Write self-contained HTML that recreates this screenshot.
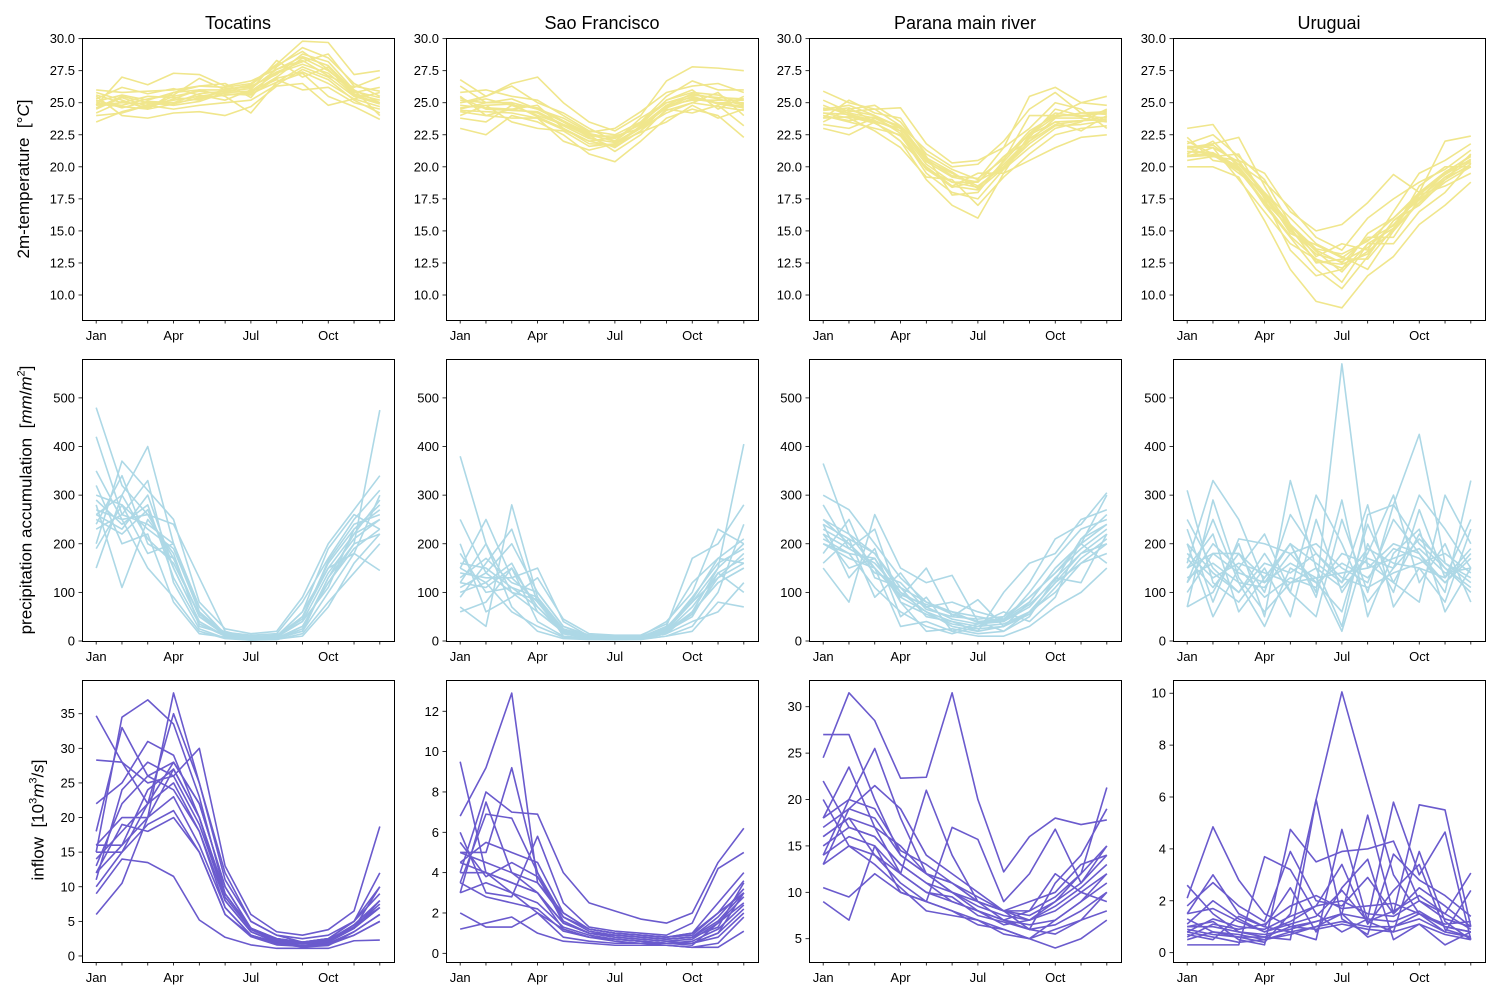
<!DOCTYPE html>
<html><head><meta charset="utf-8">
<style>
html,body{margin:0;padding:0;background:#fff;}
svg{display:block;font-family:"Liberation Sans","DejaVu Sans",sans-serif;}
</style></head>
<body>
<svg id="fig" width="1503" height="1000" viewBox="0 0 1503 1000" xmlns="http://www.w3.org/2000/svg">
<rect width="1503" height="1000" fill="#fff"/>
</svg>
<script>
const months = ["Jan","Feb","Mar","Apr","May","Jun","Jul","Aug","Sep","Oct","Nov","Dec"];
const monthLabels = ["Jan","","","Apr","","","Jul","","","Oct","",""];
const basins = ["Tocatins","Sao Francisco","Parana main river","Uruguai"];

const tempTocantins = [
[23.5,24.3,24.8,25.0,25.3,25.6,25.8,27.0,28.5,27.5,26.0,24.0],
[26.0,25.8,25.9,26.0,26.3,26.2,26.5,28.0,29.8,29.7,27.2,27.5],
[24.8,27.0,26.4,27.3,27.2,26.3,26.7,27.6,28.3,27.1,26.2,27.0],
[25.5,24.0,23.8,24.2,24.3,24.0,24.7,26.3,26.5,24.8,25.3,25.8],
[24.2,25.1,24.6,25.3,26.0,25.5,24.2,26.6,27.3,25.5,24.7,23.7],
[25.0,24.8,25.3,25.6,26.9,26.0,26.3,27.2,28.8,28.2,26.0,25.0],
[24.6,25.5,25.0,24.8,25.1,25.8,25.9,26.8,26.0,26.2,25.0,24.5],
[25.8,25.2,24.5,25.8,26.3,26.5,25.4,27.8,29.3,28.5,26.5,25.5],
[24.0,24.2,24.8,24.5,24.8,25.0,25.2,26.4,27.6,26.8,25.2,24.2],
[25.3,26.2,25.7,26.1,25.6,25.2,26.0,28.3,27.0,27.8,25.8,26.2],
[24.8,25.0,24.9,25.2,25.5,25.8,25.9,27.3,28.0,27.3,25.6,25.0],
[25.2,24.6,25.1,25.0,25.7,25.9,26.1,27.6,28.6,27.9,25.9,25.4],
[24.5,25.4,24.7,25.5,25.9,25.7,25.6,26.9,27.4,26.5,25.3,24.7],
[25.6,25.0,25.5,25.4,25.2,26.1,26.2,27.4,28.2,28.8,26.3,25.9],
[24.9,24.7,24.5,24.9,25.4,25.6,25.7,26.6,27.8,27.0,25.5,24.9],
[25.1,25.6,25.2,25.8,26.0,26.0,26.4,27.9,29.0,27.6,25.7,25.2]];
const tempSaoFrancisco = [
[26.8,25.5,26.5,27.0,25.0,23.5,22.8,24.0,26.7,27.8,27.7,27.5],
[23.0,22.5,24.0,23.5,22.5,21.0,20.4,22.0,23.8,24.5,24.0,22.3],
[24.5,25.0,25.3,24.5,23.5,22.3,21.5,22.8,24.8,25.7,25.3,24.8],
[25.5,24.0,24.5,24.8,23.0,22.0,22.3,23.3,25.2,26.0,24.5,25.5],
[24.0,24.8,23.5,23.0,22.8,21.6,21.8,23.0,24.2,25.0,25.8,24.0],
[25.8,26.0,25.5,25.2,24.0,22.8,22.5,23.5,25.5,26.7,26.0,26.0],
[23.8,23.5,24.8,24.0,23.3,22.5,21.2,22.5,24.5,24.2,24.8,23.2],
[25.0,25.5,26.3,25.0,24.2,23.0,22.0,23.8,25.0,25.4,25.0,25.0],
[24.3,24.0,23.8,23.8,22.0,21.3,21.8,22.7,23.5,24.8,23.8,24.5],
[26.3,25.0,25.0,24.5,23.8,22.7,23.0,24.3,25.8,26.3,26.5,25.8],
[24.8,24.6,24.5,24.2,23.2,22.2,21.9,23.1,24.6,25.3,25.0,24.7],
[25.2,25.0,25.0,24.5,23.5,22.5,22.0,23.5,25.0,25.6,25.4,25.3],
[24.4,24.3,24.2,23.8,22.9,22.0,21.6,22.8,24.4,25.0,24.7,24.4],
[25.0,25.3,24.8,24.6,23.6,22.6,22.2,23.4,25.2,25.8,25.6,24.9],
[24.6,24.8,24.9,23.9,23.0,21.8,21.7,23.2,24.8,25.2,25.2,25.2],
[25.4,24.5,24.4,24.3,23.3,22.4,22.4,23.0,24.7,25.5,24.9,24.6]];
const tempParana = [
[25.9,25.0,24.5,24.6,21.8,20.3,20.5,21.5,25.5,26.2,25.0,25.5],
[23.0,22.5,23.5,22.0,19.0,17.0,16.0,19.5,20.5,21.5,22.3,22.5],
[24.5,24.8,24.0,23.0,20.5,19.5,18.5,20.0,22.3,24.5,24.0,23.8],
[24.0,23.5,23.0,22.5,19.5,18.0,17.5,19.8,21.5,23.0,23.5,24.5],
[23.5,24.5,24.8,23.5,21.0,19.8,19.0,21.5,23.0,25.0,24.5,23.0],
[24.8,24.0,23.5,22.0,20.0,18.5,19.5,19.5,22.5,23.5,22.8,24.0],
[23.8,25.2,24.2,23.8,20.8,17.8,18.0,20.5,24.0,24.0,25.0,24.8],
[24.2,23.8,22.8,21.5,19.2,19.0,17.0,19.2,21.0,22.5,23.0,23.2],
[25.2,24.3,24.5,23.2,21.3,20.0,20.2,22.0,24.5,25.8,24.2,24.3],
[23.3,23.0,23.8,22.8,19.8,18.8,18.8,20.8,22.0,23.8,23.8,23.5],
[24.2,24.1,23.6,22.8,20.2,18.8,18.4,20.2,22.2,23.5,23.6,23.9],
[24.5,24.4,24.0,23.1,20.6,19.3,19.1,20.6,22.8,24.0,24.0,24.2],
[23.8,23.9,23.4,22.4,19.8,18.5,18.2,19.9,21.8,23.2,23.3,23.6],
[24.4,24.6,23.5,23.0,20.4,19.2,18.8,20.8,22.5,23.9,24.2,24.1],
[24.0,23.6,23.9,22.6,19.9,18.4,18.9,20.0,22.0,23.3,23.6,23.7],
[24.6,24.2,23.8,23.2,20.7,19.6,18.3,20.4,22.6,24.2,23.9,24.4]];
const tempUruguai = [
[23.0,23.3,20.5,19.5,16.5,15.0,15.5,17.2,19.4,18.0,22.0,22.4],
[20.0,20.0,19.2,15.8,12.0,9.5,9.0,11.5,13.0,15.5,17.0,18.8],
[21.5,21.8,22.3,18.5,15.0,13.5,12.5,14.5,14.5,17.5,19.5,20.5],
[21.0,22.0,20.0,17.0,14.5,12.0,10.5,13.0,15.8,17.0,19.0,21.0],
[22.0,21.0,19.5,18.0,16.0,14.0,13.0,12.0,15.0,18.5,20.0,20.0],
[20.5,20.8,21.0,17.5,13.5,11.5,12.0,14.8,16.0,17.8,18.5,19.5],
[21.8,22.5,20.8,19.0,15.5,13.0,14.0,13.5,16.5,19.5,20.5,21.8],
[20.8,21.5,19.0,16.5,14.0,12.8,11.0,14.0,14.0,16.5,18.0,20.3],
[22.3,20.5,20.2,18.8,16.8,14.5,13.5,16.0,17.5,18.8,19.8,21.3],
[21.2,21.0,19.8,17.8,15.3,12.5,12.8,12.8,15.2,17.2,19.2,20.0],
[21.2,21.1,20.0,17.6,15.0,13.2,12.6,13.7,15.5,17.6,19.2,20.4],
[21.6,21.5,20.4,18.0,15.5,13.6,13.2,14.2,16.0,18.0,19.6,20.8],
[20.8,20.9,19.7,17.2,14.6,12.8,12.1,13.4,15.0,17.2,18.8,20.0],
[21.4,21.7,20.2,17.9,14.8,13.9,12.9,14.3,15.4,17.9,19.4,20.6],
[20.9,21.0,19.9,17.3,15.2,12.6,12.4,13.2,15.8,17.4,19.0,20.2],
[21.5,20.8,20.5,17.7,15.4,13.4,11.8,14.0,15.2,17.8,19.5,20.9]];

const precTocantins = [
[480,320,260,240,130,20,5,5,30,120,200,475],
[150,300,400,200,60,10,3,8,20,100,180,300],
[280,110,250,180,30,15,10,10,60,190,260,230],
[350,250,150,90,20,5,2,3,15,80,140,200],
[200,370,310,250,80,25,15,20,90,200,270,340],
[260,230,300,150,40,10,5,5,20,130,220,250],
[320,200,220,80,15,8,3,6,50,150,180,145],
[190,280,180,200,70,12,8,12,40,110,230,280],
[420,260,330,120,25,6,2,4,10,70,160,220],
[240,340,200,170,50,18,12,15,80,170,250,310],
[270,250,260,170,50,12,6,8,40,140,210,250],
[300,280,230,190,60,15,8,10,50,160,230,270],
[250,220,270,150,40,10,5,6,30,120,190,230],
[230,260,240,200,70,14,7,9,60,150,220,290],
[290,240,280,130,35,10,4,5,25,130,200,220],
[260,300,210,160,55,16,9,12,45,165,240,260]];
const precSaoFrancisco = [
[380,200,100,60,20,8,5,5,15,60,150,405],
[70,30,280,90,10,5,3,4,10,20,80,70],
[150,250,130,150,40,10,8,8,30,170,200,280],
[100,120,60,30,8,4,3,4,20,60,120,150],
[250,140,200,100,30,12,10,10,40,100,230,200],
[60,80,150,40,10,5,5,5,15,40,60,120],
[180,100,110,70,20,8,5,6,25,80,130,180],
[120,200,70,20,5,3,3,3,10,30,100,240],
[200,60,90,130,45,15,12,12,35,120,170,160],
[90,160,230,80,15,6,4,5,20,50,140,100],
[140,130,130,80,20,8,6,6,20,70,140,170],
[160,150,110,90,25,10,7,7,25,90,160,190],
[120,110,150,70,15,6,5,5,15,60,120,150],
[130,170,120,100,30,9,6,6,22,80,150,200],
[150,120,160,60,18,7,5,6,18,55,130,160],
[110,140,100,85,22,8,7,7,28,85,170,210]];
const precParana = [
[365,220,180,100,60,30,20,30,80,150,200,300],
[150,80,260,150,120,135,40,20,60,120,180,200],
[250,200,150,30,40,20,10,10,30,70,100,150],
[300,270,200,130,80,60,50,40,100,170,230,250],
[200,180,110,60,30,15,30,50,120,210,240,305],
[220,150,170,90,150,50,85,30,60,100,160,180],
[180,250,130,110,50,40,20,100,160,180,250,270],
[280,190,230,80,20,25,15,20,50,130,120,220],
[160,210,90,140,70,80,60,45,90,140,200,160],
[240,130,190,50,90,20,35,60,40,90,210,240],
[220,190,160,100,70,45,35,40,70,130,180,220],
[240,210,180,110,80,55,40,45,80,150,200,240],
[200,170,150,90,60,40,30,35,60,120,160,200],
[230,200,140,120,65,50,45,50,90,140,190,230],
[210,180,170,80,55,35,25,30,55,110,170,210],
[250,220,150,95,75,60,38,42,75,125,210,260]];
const precUruguai = [
[160,330,250,120,200,100,570,150,200,180,100,330],
[70,100,200,50,330,150,30,260,280,425,160,120],
[250,150,100,180,100,300,200,80,150,300,230,150],
[120,250,120,30,150,120,60,240,120,80,300,200],
[200,50,150,220,100,50,250,100,280,200,150,100],
[100,180,180,100,260,180,120,280,70,150,80,230],
[310,120,80,150,50,250,100,180,300,120,200,80],
[150,220,60,130,200,90,290,50,180,230,60,150],
[70,290,130,60,120,130,20,200,100,270,130,250],
[230,80,210,200,180,200,150,120,250,180,120,180],
[150,180,140,120,160,130,140,150,170,190,140,150],
[180,130,160,140,120,150,110,170,150,210,160,130],
[130,160,120,110,180,120,160,130,190,170,120,170],
[200,140,100,160,140,180,130,110,140,160,180,140],
[120,200,150,90,130,110,180,160,120,220,150,110],
[170,110,180,130,200,160,120,190,160,150,130,190]];

const flowTocantins = [
[34.7,28,22,28,22,10,4,2.5,2,2.5,4,8],
[6,10.5,20,38,25,12,5,3,2.5,3,5,12],
[15,34.5,37,33.5,23,9,4,2,1.8,2,4,10],
[9,14,13.5,11.5,5.2,2.7,1.6,1.1,1.1,1.1,2.2,2.3],
[28.3,28,25,26,30,13,6,3.5,3,3.8,6.5,18.7],
[22,25,31,29,20,8,3.5,2,1.5,2,4.5,7],
[12,19,18,20,15,6,3,2,1.5,1.8,3,5],
[18,33,26,24,18,7,3,1.8,1.3,1.5,3.5,6],
[10,15,22,35,25,11,5,3,2,2.5,5,10],
[16,16,20,27,20,9,4,2.5,2,2.2,4,7],
[14,18,22,25,18,8,3.5,2,1.8,2,4,7],
[12,16,24,27,20,9,4,2.3,2,2.3,4.5,8],
[16,20,20,23,16,7,3,1.8,1.5,1.8,3.5,6],
[13,22,26,28,22,10,4,2.5,2,2.5,5,9],
[15,15,19,21,15,6,2.8,1.6,1.4,1.6,3,5],
[11,24,28,26,19,8.5,3.8,2.2,1.9,2.1,4.2,7.5]];
const flowSaoFrancisco = [
[9.5,4,3,2,1.2,0.8,0.7,0.6,0.5,0.5,0.8,2],
[6.8,9.2,12.9,3.5,2,1.2,1,0.9,0.8,1,2,3],
[4,8,7,6.9,4,2.5,2.1,1.7,1.5,2,4.5,6.2],
[1.2,1.5,1.8,1,0.6,0.5,0.4,0.4,0.4,0.3,0.3,1.1],
[5,5,9.2,4,1.5,1,0.8,0.7,0.6,0.5,1,3],
[3,7.5,4,3,1.2,0.8,0.6,0.5,0.5,0.4,1.5,2.5],
[6,3,2.8,5.8,2.5,1.3,1.1,1,0.9,1.5,4.2,5],
[2,1.3,1.3,2,0.8,0.6,0.5,0.5,0.4,0.3,0.5,1.8],
[4.5,4,3.5,3,1.5,1,0.9,0.8,0.7,0.8,1.3,3.5],
[3.5,6.9,6.7,4,1.8,1.2,1,0.9,0.8,1,2.5,4],
[4,4,3.5,3,1.5,1,0.8,0.7,0.6,0.7,1.5,2.8],
[5,4.5,4,3.5,1.8,1.1,0.9,0.8,0.7,0.8,1.8,3.2],
[3,3.5,3,2.5,1.3,0.9,0.7,0.6,0.5,0.6,1.2,2.4],
[4.5,5.5,5,4.5,2,1.2,1,0.9,0.8,0.9,2,3.6],
[3.5,2.8,2.5,2.2,1.1,0.8,0.7,0.6,0.5,0.5,1,2.2],
[5.5,3.8,4.5,3.8,1.6,1,0.9,0.8,0.7,0.8,1.6,3]];
const flowParana = [
[24.5,31.5,28.5,22.3,22.4,31.5,20,12.2,16,18,17.3,17.8],
[27,27,20,14,12,11,9,7,6,5.5,7,10],
[9,7,15,10,9,8,7,6,5,4,5,7],
[14,20,25.5,18,12,10,8,6.5,7,9,12,21.3],
[18,23.5,17,12,21,14,9,8,6,11,14,19],
[10.5,9.5,12,10,9,17,15.7,9,12,16.8,11,15],
[16,18,14,11,9,8,6.5,6,5,7,9,12],
[20,15,13,10.5,8,7.5,7,5.5,5,6,7,8],
[13,19,21.5,19,14,12,10,8,9,10,13,14],
[22,17,16,13,11,9,8,7,8,12,10,9],
[15,17,16,13,11,10,8.5,7.5,7,8,10,12],
[17,19,18,14,12,11,9,8,7.5,9,11,14],
[13,15,14,12,10,9,8,7,6.5,7,9,11],
[16,18,17,15,12,10,9,8,8,9.5,12,15],
[14,16,15,12,10,9.5,7.5,6.8,6,6.5,8,10],
[18,20,19,14.5,13,11,9.5,8,7,8.5,10.5,13]];
const flowUruguai = [
[0.5,0.8,0.6,0.4,1.5,5.9,10.05,6.5,3,1.5,1,0.8],
[2.1,4.85,2.8,1.5,1,1.2,1.5,5.3,1.5,5.7,5.5,1],
[1,1.2,0.5,0.3,4.75,3.5,3.9,4,4.3,2,1.5,3.07],
[0.3,0.3,0.3,3.7,3.2,1.5,0.8,1.3,5.8,3,4.65,0.5],
[1.5,3,1.5,1,0.8,0.5,4.75,1.2,0.8,3.9,1.2,0.5],
[0.8,0.6,0.4,0.5,0.8,1,1.5,0.6,1,1.5,0.8,2.4],
[1.8,2.7,1.8,1.2,3.9,2,1.8,2.9,1.5,2.5,1.8,1],
[2.6,1.5,0.8,0.6,0.5,5.9,1.3,0.7,3.8,2.8,2.2,1.4],
[0.7,0.5,1.4,1,2.5,0.8,2.5,3.6,0.5,1.1,0.3,0.8],
[1.1,2,1.3,0.8,1.2,1.8,3.4,1.1,2.4,3.4,0.9,0.6],
[1,1,0.8,0.7,0.9,1.2,1.5,1.3,1.2,1.6,1,0.8],
[0.8,1.3,1,0.9,1.4,1.8,2,1.5,1.4,2,1.3,1],
[1.3,0.8,0.7,0.5,0.7,1,1.2,1,1,1.3,0.8,0.6],
[0.6,1.1,0.9,1.1,1.8,2.2,1.7,1.8,1.9,1.5,1.1,1.2],
[1.5,1.7,1.2,0.8,1.1,1.4,2.4,1.2,1.6,2.2,1.5,0.9],
[0.9,0.7,0.6,0.6,1,0.9,1.1,0.9,0.8,1.1,0.7,0.5]];

const tempTicks = [10,12.5,15,17.5,20,22.5,25,27.5,30];
const precTicks = [0,100,200,300,400,500];
const flowTicksTocantins = [0,5,10,15,20,25,30,35];
const flowTicksSaoFrancisco = [0,2,4,6,8,10,12];
const flowTicksParana = [5,10,15,20,25,30];
const flowTicksUruguai = [0,2,4,6,8,10];

const NS = "http://www.w3.org/2000/svg";
const svg = document.getElementById("fig");
function mk(tag, attrs, parent){
  const e = document.createElementNS(NS, tag);
  for (const k in attrs) e.setAttribute(k, attrs[k]);
  (parent||svg).appendChild(e);
  return e;
}
const colLeft = [82,446,809,1173], rowTop = [38,359,680], W = 312, H = 282;
const rows = [
 {data:[tempTocantins,tempSaoFrancisco,tempParana,tempUruguai], color:"#F0E68C",
  lims:[[8.05,30.05],[8.05,30.05],[8.05,30.05],[8.05,30.05]], ticks:[tempTicks,tempTicks,tempTicks,tempTicks], fmt:v=>v.toFixed(1), key:"temperature"},
 {data:[precTocantins,precSaoFrancisco,precParana,precUruguai], color:"#ADD8E6",
  lims:[[0,580],[0,580],[0,580],[0,580]], ticks:[precTicks,precTicks,precTicks,precTicks], fmt:v=>String(v), key:"precipitation"},
 {data:[flowTocantins,flowSaoFrancisco,flowParana,flowUruguai], color:"#6A5ACD",
  lims:[[-0.87,39.87],[-0.43,13.55],[2.49,32.88],[-0.36,10.51]], ticks:[flowTicksTocantins,flowTicksSaoFrancisco,flowTicksParana,flowTicksUruguai], fmt:v=>String(v), key:"inflow"}
];

rows.forEach((row, r) => {
  row.data.forEach((series, c) => {
    const L = colLeft[c], T = rowTop[r];
    const [y0, y1] = row.lims[c];
    const xs = i => L + (i + 0.55) / 12.1 * W;
    const ys = v => T + H - (v - y0) / (y1 - y0) * H;
    const g = mk("g", {});
    
    
    series.forEach((line, k) => {
      const d = line.map((v, i) => (i ? "L" : "M") + xs(i).toFixed(2) + " " + ys(v).toFixed(2)).join(" ");
      const p = mk("path", {d: d, fill: "none", stroke: row.color, "stroke-width": 1.6, "stroke-linejoin": "round"}, g);
      
      
    });
    const frame = mk("rect", {x: L + 0.5, y: T + 0.5, width: W, height: H, fill: "none", stroke: "#000", "stroke-width": 1}, g);
    
    
    row.ticks[c].forEach(t => {
      const y = ys(t);
      mk("line", {x1: L, x2: L - 3.5, y1: y, y2: y, stroke: "#000", "stroke-width": 0.8}, g);
      const tx = mk("text", {x: L - 7, y: y + 4.5, "text-anchor": "end", "font-size": 13, fill: "#000"}, g);
      tx.textContent = row.fmt(t);
      
      
    });
    months.forEach((m, i) => {
      const x = xs(i);
      mk("line", {x1: x, x2: x, y1: T + H, y2: T + H + 3.5, stroke: "#000", "stroke-width": 0.8}, g);
      if (monthLabels[i]) {
        const tx = mk("text", {x: x, y: T + H + 20, "text-anchor": "middle", "font-size": 13, fill: "#000"}, g);
        tx.textContent = monthLabels[i];
        
        
      }
    });
    if (r === 0) {
      const tt = mk("text", {x: L + W / 2, y: 29, "text-anchor": "middle", "font-size": 18, fill: "#000"});
      tt.textContent = basins[c];
      
      
    }
  });
});
</script>
<div style="position:absolute;left:0;top:0;width:1503px;height:1000px;pointer-events:none;">
  <div style="position:absolute;left:24px;top:179px;transform:translate(-50%,-50%) rotate(-90deg);white-space:nowrap;font:17px 'Liberation Sans',sans-serif;">2m-temperature&nbsp; [°<i>C</i>]</div>
  <div style="position:absolute;left:26px;top:500px;transform:translate(-50%,-50%) rotate(-90deg);white-space:nowrap;font:17px 'Liberation Sans',sans-serif;">precipitation accumulation&nbsp; [<i>mm</i>/<i>m</i><sup style="font-size:11px">2</sup>]</div>
  <div style="position:absolute;left:38px;top:820px;transform:translate(-50%,-50%) rotate(-90deg);white-space:nowrap;font:17px 'Liberation Sans',sans-serif;">inflow&nbsp; [10<sup style="font-size:11px">3</sup><i>m</i><sup style="font-size:11px">3</sup>/<i>s</i>]</div>
</div>
</body></html>
